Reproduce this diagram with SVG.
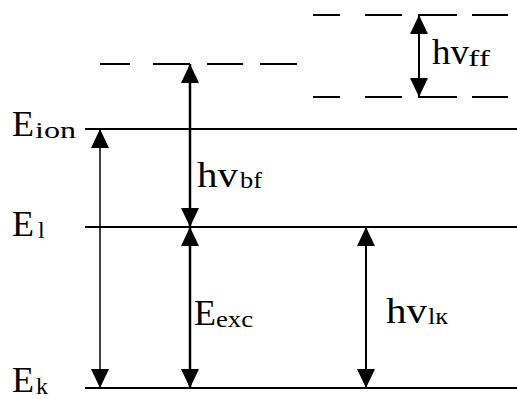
<svg xmlns="http://www.w3.org/2000/svg" width="517" height="399" viewBox="0 0 517 399">
<style>
.lvl{stroke:#000;stroke-width:2;fill:none}
.dash{stroke:#000;stroke-width:2;fill:none}
.arr{stroke:#000;fill:none;marker-start:url(#ah);marker-end:url(#ah)}
.t{font-family:"Liberation Serif","Times New Roman",serif;font-size:36px;fill:#000}
.s{font-family:"Liberation Serif","Times New Roman",serif;font-size:24px;fill:#000}
</style>
<defs>
<marker id="ah" viewBox="0 0 19 18" refX="19" refY="9" markerWidth="19" markerHeight="18" markerUnits="userSpaceOnUse" orient="auto-start-reverse">
<path d="M0,0 L19,9 L0,18 z" fill="#000"/>
</marker>
</defs>
<rect width="517" height="399" fill="#fff"/>
<g id="level-ion">
<line class="lvl" x1="85" y1="129" x2="517" y2="129"/>
<text class="t" x="12" y="136">E</text>
<text class="s" x="35" y="138" font-size="26" textLength="41" lengthAdjust="spacingAndGlyphs">ion</text>
</g>
<g id="level-l">
<line class="lvl" x1="85" y1="227" x2="517" y2="227"/>
<text class="t" x="12" y="236">E</text>
<text class="s" x="38" y="238" font-size="30">l</text>
</g>
<g id="level-k">
<line class="lvl" x1="85" y1="388" x2="517" y2="388"/>
<text class="t" x="12" y="392">E</text>
<text class="s" x="36" y="394" font-size="27">k</text>
</g>
<g id="level-free-bf">
<path class="dash" d="M100,64H130M153,64H190M207,64H243M260,64H297"/>
</g>
<g id="level-free-top">
<path class="dash" d="M313,15H340M365,15H402M418,15H457M472,15H508"/>
</g>
<g id="level-free-bottom">
<path class="dash" d="M313,97H340M365,97H402M418,97H457M472,97H508"/>
</g>
<g id="connectors">
<line class="arr" x1="100" y1="129" x2="100" y2="388" stroke-width="1.5"/>
<line class="arr" x1="190" y1="64" x2="190" y2="227" stroke-width="2.5"/>
<line class="arr" x1="190" y1="227" x2="190" y2="388" stroke-width="2.5"/>
<line class="arr" x1="366" y1="227" x2="366" y2="388" stroke-width="2"/>
<line class="arr" x1="419" y1="15" x2="419" y2="97" stroke-width="2"/>
</g>
<g id="label-bf">
<text class="t" x="197" y="187" textLength="41" lengthAdjust="spacingAndGlyphs">hv</text>
<text class="s" x="240" y="188" font-size="22" textLength="22" lengthAdjust="spacingAndGlyphs">bf</text>
</g>
<g id="label-exc">
<text class="t" x="194" y="325">E</text>
<text class="s" x="216" y="327" font-size="26" textLength="37" lengthAdjust="spacingAndGlyphs">exc</text>
</g>
<g id="label-lk">
<text class="t" x="386" y="323" textLength="41" lengthAdjust="spacingAndGlyphs">hv</text>
<text class="s" x="428" y="324" font-size="22" textLength="20" lengthAdjust="spacingAndGlyphs">lк</text>
</g>
<g id="label-ff">
<text class="t" x="432" y="64" textLength="37" lengthAdjust="spacingAndGlyphs">hv</text>
<text class="s" x="468" y="66" font-size="22" textLength="22" lengthAdjust="spacingAndGlyphs">ff</text>
</g>
</svg>
